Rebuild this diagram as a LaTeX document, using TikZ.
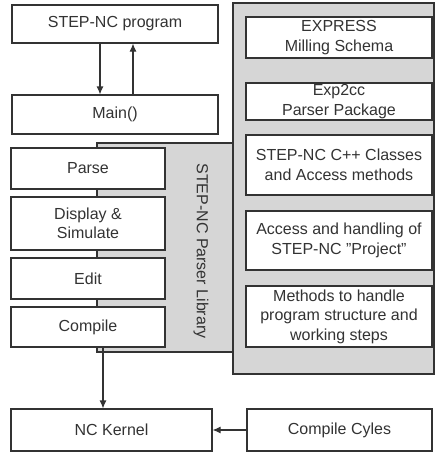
\documentclass[tikz,border=0pt]{standalone}
\usepackage{fontspec}
\setmainfont{Liberation Sans}
\usetikzlibrary{arrows.meta}
\definecolor{ink}{gray}{0.2}
\definecolor{panel}{gray}{0.84}

\begin{document}
\begin{tikzpicture}[x=1pt,y=-1pt,
    box/.style={draw=ink,fill=white,line width=1.1pt,inner sep=0pt,align=center,
      text=ink,font=\fontsize{16}{19.5}\selectfont},
    arr/.style={draw=ink,line width=1.1pt,-{Latex[length=8pt,width=7pt]}}]
  \useasboundingbox (0,0) rectangle (436,453);
  % gray panels
  \draw[ink,fill=panel,line width=1.1pt] (97,143) rectangle (233,352);
  \draw[ink,fill=panel,line width=1.1pt] (233,3) rectangle (434,374);
  \node[rotate=-90,text=ink,font=\fontsize{16}{19.5}\selectfont] (lib) at (201,251) {STEP-NC Parser Library};
  % left column
  \draw
    (115,24) node[box,minimum width=206,minimum height=38] (prog){STEP-NC program}
    (115,114.5) node[box,minimum width=206,minimum height=39] (main){Main()}
    (88,168.5) node[box,minimum width=154,minimum height=41] (parse){Parse}
    (88,223.5) node[box,minimum width=154,minimum height=53] (disp){Display \&\\Simulate}
    (88,278.5) node[box,minimum width=154,minimum height=41] (edit){Edit}
    (88,327) node[box,minimum width=154,minimum height=40] (comp){Compile};
  % right column
  \draw
    (339,37.5) node[box,minimum width=186,minimum height=41] (expr){EXPRESS\\Milling Schema}
    (339,101.5) node[box,minimum width=186,minimum height=37] (exp2cc){Exp2cc\\Parser Package}
    (339,165) node[box,minimum width=186,minimum height=60] (cls){STEP-NC C++ Classes\\and Access methods}
    (339,240.5) node[box,minimum width=186,minimum height=59] (proj){Access and handling of\\STEP-NC \symbol{34}Project\symbol{34}}
    (339,316.5) node[box,minimum width=186,minimum height=61] (meth){Methods to handle\\program structure and\\working steps};
  % bottom row
  \draw
    (111.5,430) node[box,minimum width=201,minimum height=42] (kern){NC Kernel}
    (339.5,430) node[box,minimum width=185,minimum height=42] (cyc){Compile Cyles};
  \begin{scope}
    \draw[arr] ([xshift=-15pt]prog.south) -- ([xshift=-15pt]prog.south |- main.north);
    \draw[arr] ([xshift=18pt]main.north) -- ([xshift=18pt]main.north |- prog.south);
    \draw[arr] ([xshift=15pt]comp.south) -- ([xshift=15pt]comp.south |- kern.north);
    \draw[arr] (cyc) -- (kern);
  \end{scope}
\end{tikzpicture}
\end{document}
